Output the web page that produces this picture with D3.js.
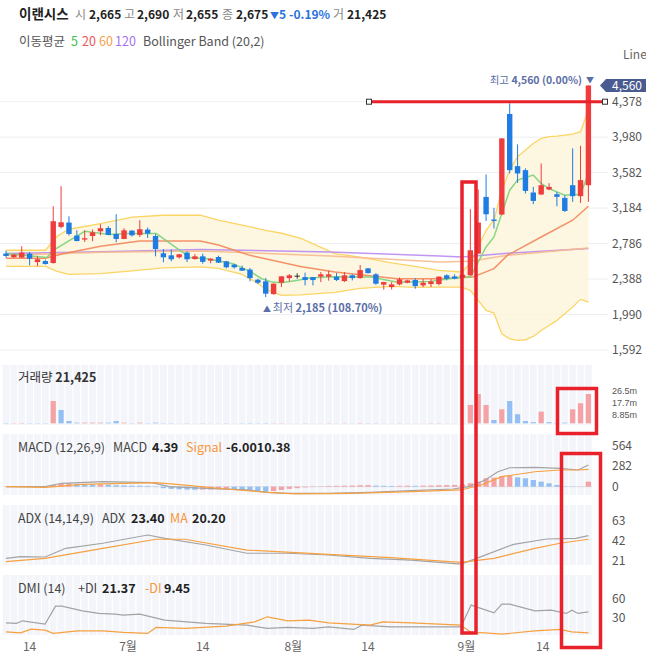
<!DOCTYPE html>
<html><head><meta charset="utf-8">
<script src="https://cdn.jsdelivr.net/npm/d3@7"></script>
<style>
html,body{margin:0;padding:0;background:#fff;overflow:hidden;}
svg{display:block;font-family:"Noto Sans CJK KR","Noto Sans",sans-serif;}
</style></head><body>
<svg id="c" width="646" height="659"></svg>
<script>
// ---------- DATA ----------
const opens  = [2674,2632,2629,2674,2579,2590,2568,2973,3022,2876,2831,2871,2924,2961,2894,2838,2932,2883,2943,2871,2677,2654,2632,2685,2613,2643,2595,2635,2587,2550,2512,2494,2381,2362,2219,2347,2399,2426,2410,2410,2415,2415,2415,2365,2430,2399,2508,2441,2325,2298,2328,2347,2377,2317,2332,2332,2430,2418,2404,2430,2674,3310,3056,3112,4240,3655,3610,3359,3337,3393,3340,3299,3441,3318,3441];
const highs  = [2707,2668,2756,2692,2643,2606,3205,3430,3093,2935,2935,2943,3003,2981,3115,2958,2935,3048,2966,2891,2725,2719,2670,2699,2669,2674,2620,2650,2592,2561,2539,2512,2393,2399,2340,2420,2444,2452,2460,2412,2467,2482,2455,2467,2441,2545,2512,2455,2358,2354,2404,2380,2396,2388,2388,2418,2441,2441,2445,3172,3393,3562,3186,3970,4360,3899,3630,3422,3685,3464,3366,3329,3854,3883,4560];
const lows   = [2629,2628,2625,2542,2534,2550,2560,2955,2876,2810,2804,2812,2879,2880,2801,2835,2865,2860,2849,2643,2576,2587,2618,2579,2606,2561,2565,2568,2508,2505,2480,2362,2332,2185,2212,2298,2362,2392,2317,2317,2354,2370,2365,2354,2373,2392,2450,2325,2269,2272,2317,2340,2280,2298,2298,2317,2373,2384,2400,2425,2670,3040,2955,3105,3573,3467,3348,3228,3330,3384,3205,3141,3254,3242,3254];
const closes = [2647,2662,2685,2617,2610,2557,3037,3025,2894,2815,2846,2913,2958,2883,2838,2935,2879,2947,2898,2725,2632,2610,2666,2610,2643,2581,2617,2572,2520,2520,2482,2399,2347,2224,2336,2418,2430,2426,2377,2377,2441,2441,2377,2430,2399,2489,2455,2336,2354,2328,2385,2373,2309,2347,2362,2415,2392,2392,2437,2711,3022,3115,3040,3966,3610,3573,3377,3265,3441,3422,3310,3152,3318,3498,4560];
// volume in millions
const volumes = [0.3,0.2,0.3,0.2,0.2,0.2,19.7,11.8,2.0,0.6,
  0.6,0.6,0.6,0.6,2.0,0.6,0.2,0.6,0.2,0.6,
  0.2,0.2,0.1,0.2,0.1,0.2,0.1,0.1,0.2,0.1,
  0.2,0.3,0.2,0.3,0.2,0.2,0.1,0.1,0.2,0.1,
  0.1,0.2,0.1,0.2,0.1,0.3,0.2,0.2,0.1,0.1,
  0.2,0.1,0.1,0.1,0.2,0.2,0.1,0.1,0.2,16.2,
  25.9,16.2,2.9,12.4,19.7,8.0,2.0,1.0,10.3,1.0,
  0.3,0.6,12.4,17.7,25.9];
// moving averages [index, value]
const ma5 = [[0,2674],[5.2,2629],[6,2711],[10,2924],[13.2,2887],[15.3,2898],[19.1,2898],[22.1,2711],[23.4,2629],[25.5,2617],[27.2,2587],[28.8,2561],[31,2475],[32.5,2392],[33.8,2354],[35,2347],[36.9,2373],[38.6,2399],[41.5,2415],[46.3,2410],[49.6,2354],[52.2,2354],[53.9,2362],[56.4,2392],[57.9,2410],[59,2410],[60,2579],[61,2748],[62,2860],[63,3123],[64,3385],[65,3498],[66,3528],[67,3554],[68,3461],[69,3404],[70,3366],[71,3329],[72,3337],[73,3337],[74,3573]];
const ma20 = [[0,2621],[5,2621],[7,2666],[12,2756],[17,2815],[24.7,2815],[27,2770],[31,2654],[37.4,2530],[41.8,2467],[49.7,2392],[55,2392],[59.3,2410],[62,2505],[63.7,2654],[68,2860],[72,3048],[74,3205]];
const ma60 = [[0,2654],[12,2688],[24.7,2703],[41.2,2647],[55.1,2579],[59,2587],[63.7,2654],[74,2737]];
const ma120 = [[0,2674],[12,2694],[24.7,2719],[41.2,2692],[55.1,2647],[58,2636],[63.7,2677],[74,2730]];
// Bollinger band (20,2)
const bbIdx   = [0,5,6.5,8,12,16,20,24.7,27,30,32,33,35,37.4,41.8,45,49,52,55,57.9,59,60,61,62,63,64,65,66,67,68,69,70,71,72,73,74];
const bbUpper = [2711,2711,2868,2947,3011,3082,3104,3104,3048,2992,2955,2935,2902,2846,2674,2635,2570,2531,2486,2467,2561,2748,2935,3048,3385,3610,3760,3835,3910,3966,3985,3992,4004,4015,4041,4285];
const bbLower = [2531,2531,2475,2441,2449,2480,2514,2525,2508,2441,2340,2272,2205,2210,2238,2283,2306,2295,2298,2298,2261,2148,2036,2006,1774,1718,1699,1707,1744,1811,1867,1924,1999,2073,2160,2129];
// MACD
const macdHist = [2,-1,3,-2,-3,-2,
  25,40,45,40,35,30,32,28,20,18,15,14,10,-5,
  -20,-30,-35,-40,-42,-40,-38,-35,-30,-35,-40,-50,-60,-70,-60,-45,-30,-20,-10,-5,
  5,10,12,14,16,20,22,15,12,10,12,14,12,14,16,20,22,24,30,
  47,69,116,124,145,150,129,116,92,69,47,23,3,-3,2,69];
const macdLine = [[0,0],[5,0],[7.1,47],[12.3,69],[18.55,55],[20.7,0],[25.4,-22],[30.6,-45],[33.2,-77],[35.8,-91],[41,-91],[46.25,-77],[51.5,-55],[56.8,-32],[58.8,0],[60.9,92],[62.5,206],[64,261],[67.2,267],[70.4,253],[72.7,230],[74,299]];
const signalLine = [[0,0],[5,-8],[9.7,33],[19.06,55],[22.75,23],[27.95,-32],[33.2,-77],[36.85,-100],[43.7,-91],[51.5,-69],[57.8,-45],[60.4,23],[63,138],[67.2,206],[70.4,230],[72.7,230],[74,239]];
// ADX
const adxLine = [[0,23.5],[1.86,25.2],[4.96,24.9],[7.6,34],[12.3,39.3],[18,48],[20.2,44.5],[25.4,37.5],[30.6,28.8],[35.8,28.8],[41,27],[46.25,23.5],[51.5,21.7],[57.8,17.5],[59.8,23.5],[64.5,38.2],[68.7,43.8],[72.4,44.5],[74,47.3]];
const adxMa = [[0,20],[4.96,23.5],[12.3,34],[19.06,43.5],[22.75,43.5],[30.6,32.2],[41,27.7],[48.9,24.2],[57.8,19.3],[62,23.5],[67.2,34],[70.4,39.3],[74,43.5]];
// DMI
const plusDI = [[0,22.1],[1.33,21.2],[2.1,25.2],[4.96,20.1],[6.3,47.9],[7.1,47.9],[9.7,40.6],[11.8,36.6],[13.85,35.5],[14.9,34],[17,35.5],[20.15,26.3],[25.4,21.2],[30.6,18.5],[33.2,13.4],[35.8,15],[39,13.4],[41,15.9],[44.2,11.9],[45.2,18.5],[48.9,15.9],[54.1,15.9],[57.8,15.9],[59.1,49.5],[62,37.6],[63,51],[64,51],[67.2,40.6],[69.25,41.7],[71.2,36.6],[71.9,41.7],[72.7,36.6],[74,39.1]];
const minusDI = [[0,8.2],[1.86,6.6],[3.2,12.4],[4.96,10.8],[6,5.7],[9.1,9.7],[12.3,9.7],[14.9,7.3],[18,5.7],[19.06,15],[22.75,13.4],[27.95,17],[31.6,23.6],[33.2,31.4],[35.8,25.2],[38.5,26.3],[41,22.1],[46.25,18.5],[47.9,23.6],[51.5,22.1],[57.8,18.5],[59.1,7.3],[60.9,6.6],[63,4.6],[67.2,9.7],[70.4,11.9],[71.9,8.2],[74,6.6]];
// ticks
const priceTicks = [1592,1990,2388,2786,3184,3582,3980,4378];
const volTicks = [8.85,17.7,26.5];
const volTickLabels = ["8.85m","17.7m","26.5m"];
const macdTicks = [0,282,564];
const adxTicks = [21,42,63];
const dmiTicks = [30,60];
const xTickIdx = [3,15.5,25,36.5,46,58.5,68.2];
const xTickLabels = ["14","7월","14","8월","14","9월","14"];

// ---------- DRAW ----------
const svg = d3.select('#c');
const N = closes.length;
const x = d3.scaleLinear().domain([0, N-1]).range([6, 588.4]);
const step = x(1) - x(0);
const fmt = d3.format(',');

const RED = '#ef3d3d', BLUE = '#1f7ce2', PINK = '#f4a2a5', LBLUE = '#93bff3';
const AXC = '#555';

// main scale
const y = d3.scaleLinear().domain([1592, 4378]).range([350, 101.7]);

// gridlines
svg.append('g').selectAll('line').data(priceTicks).join('line')
  .attr('x1', 0).attr('x2', 608).attr('y1', d => y(d)).attr('y2', d => y(d))
  .attr('stroke', '#eceef2').attr('stroke-width', 1);

// clip for main
svg.append('clipPath').attr('id', 'mainclip').append('rect')
  .attr('x', 0).attr('y', 60).attr('width', 600).attr('height', 302);
const gm = svg.append('g').attr('clip-path', 'url(#mainclip)');

// Bollinger
const bb = bbIdx.map((d, i) => ({i: d, u: bbUpper[i], l: bbLower[i]}));
gm.append('path').datum(bb)
  .attr('d', d3.area().x(d => x(d.i)).y0(d => y(d.l)).y1(d => y(d.u)))
  .attr('fill', '#fdf5dc').attr('opacity', 0.85);
const lineGen = (ys) => d3.line().x(d => x(d[0])).y(d => ys(d[1]));
gm.append('path').datum(bb.map(d => [d.i, d.u])).attr('d', lineGen(y))
  .attr('fill', 'none').attr('stroke', '#fbd565').attr('stroke-width', 1.3);
gm.append('path').datum(bb.map(d => [d.i, d.l])).attr('d', lineGen(y))
  .attr('fill', 'none').attr('stroke', '#fbd565').attr('stroke-width', 1.3);

// MAs
[[ma120, '#b98bf0'], [ma60, '#f7bb8c'], [ma20, '#f2865a'], [ma5, '#79d47a']].forEach(([d, c]) => {
  gm.append('path').datum(d).attr('d', lineGen(y))
    .attr('fill', 'none').attr('stroke', c).attr('stroke-width', 1.5).attr('opacity', 0.9);
});

// candles
const cdata = d3.range(N).map(i => ({i, o: opens[i], h: highs[i], l: lows[i], c: closes[i]}));
const ccol = d => d.c > d.o ? RED : (d.c < d.o ? BLUE : '#333');
const cg = gm.append('g').selectAll('g').data(cdata).join('g');
cg.append('line').attr('x1', d => x(d.i)).attr('x2', d => x(d.i))
  .attr('y1', d => y(d.h)).attr('y2', d => y(d.l)).attr('stroke', ccol).attr('stroke-width', 1);
cg.append('rect').attr('x', d => x(d.i) - 2.7).attr('width', 5.4)
  .attr('y', d => y(Math.max(d.o, d.c)))
  .attr('height', d => Math.max(1, Math.abs(y(d.o) - y(d.c))))
  .attr('fill', ccol);

// price axis labels
svg.append('g').selectAll('text').data(priceTicks).join('text')
  .attr('x', 612).attr('y', d => y(d)).attr('dy', '0.35em')
  .attr('font-size', 12).attr('fill', AXC).text(d => fmt(d));

// highest / lowest annotations
const iMax = d3.maxIndex(highs), iMin = d3.minIndex(lows);
svg.append('text').attr('x', 582).attr('y', y(highs[iMax]) - 1).attr('text-anchor', 'end')
  .attr('font-size', 10.5).attr('fill', '#5b6ea6')
  .call(t => { t.append('tspan').text('최고 '); t.append('tspan').attr('font-weight', 'bold').text(fmt(highs[iMax]) + ' (0.00%)'); });
svg.append('text').attr('x', 590).attr('y', y(highs[iMax]) - 2).attr('text-anchor', 'middle')
  .attr('font-size', 8).attr('fill', '#5b6ea6').text('▼');
svg.append('text').attr('x', 263).attr('y', y(lows[iMin]) + 15)
  .attr('font-size', 11).attr('fill', '#5b6ea6')
  .call(t => { t.append('tspan').attr('font-size', 8).text('▲ '); t.append('tspan').text('최저 ');
    t.append('tspan').attr('font-weight', 'bold').text(fmt(lows[iMin]) + ' (108.70%)'); });

// price badge
const by = y(closes[N-1]);
svg.append('path').attr('d', `M600,${by} L606,${by-6.5} L646,${by-6.5} L646,${by+6.5} L606,${by+6.5} Z`).attr('fill', '#4a5b90');
svg.append('text').attr('x', 612).attr('y', by).attr('dy', '0.36em').attr('font-size', 12)
  .attr('fill', '#fff').text(fmt(closes[N-1]));
svg.append('text').attr('x', 623).attr('y', 59).attr('font-size', 12).attr('fill', '#666').text('Line');

// ---------- sub panels ----------
function stripes(top, bottom) {
  svg.append('g').selectAll('rect').data(d3.range(N)).join('rect')
    .attr('x', i => x(i) - step / 2 + 0.6).attr('width', step - 1.2)
    .attr('y', top).attr('height', bottom - top).attr('fill', '#f3f5fa');
}

// volume panel
stripes(365, 425);
const yv = d3.scaleLinear().domain([0, 26.5]).range([423.3, 393.3]);
const vcol = i => (i === 0 ? closes[0] >= opens[0] : closes[i] >= closes[i-1]) ? PINK : LBLUE;
svg.append('g').selectAll('rect').data(volumes).join('rect')
  .attr('x', (d, i) => x(i) - 2.6).attr('width', 5.2)
  .attr('y', d => yv(d)).attr('height', d => yv(0) - yv(d))
  .attr('fill', (d, i) => vcol(i));
svg.append('g').selectAll('text').data(volTicks).join('text')
  .attr('x', 612).attr('y', (d, i) => yv(d) + (1 - i) * 2).attr('dy', '0.35em')
  .attr('font-size', 9).attr('font-family', '"Liberation Sans", Arial, sans-serif').attr('fill', AXC)
  .text((d, i) => volTickLabels[i]);
svg.append('text').attr('x', 18).attr('y', 382).attr('font-size', 12.5).attr('fill', '#333')
  .call(t => { t.append('tspan').text('거래량 '); t.append('tspan').attr('font-weight', 'bold').text('21,425'); });

// MACD panel
stripes(434, 495);
const ym = d3.scaleLinear().domain([0, 564]).range([486.7, 445.7]);
svg.append('line').attr('x1', 4).attr('x2', 592).attr('y1', ym(0)).attr('y2', ym(0)).attr('stroke', '#dcdfe5');
svg.append('g').selectAll('rect').data(macdHist).join('rect')
  .attr('x', (d, i) => x(i) - 2.6).attr('width', 5.2)
  .attr('y', d => ym(Math.max(0, d))).attr('height', d => Math.abs(ym(d) - ym(0)))
  .attr('fill', (d, i) => (i === 0 || d >= macdHist[i-1]) ? PINK : LBLUE);
svg.append('path').datum(macdLine).attr('d', lineGen(ym)).attr('fill', 'none').attr('stroke', '#a3a3a3').attr('stroke-width', 1.2);
svg.append('path').datum(signalLine).attr('d', lineGen(ym)).attr('fill', 'none').attr('stroke', '#f7a040').attr('stroke-width', 1.2);
svg.append('g').selectAll('text').data(macdTicks).join('text')
  .attr('x', 612).attr('y', d => ym(d)).attr('dy', '0.35em').attr('font-size', 12).attr('fill', AXC).text(d => d);
const lab = (yy, parts) => {
  const t = svg.append('text').attr('y', yy).attr('font-size', 12.5);
  parts.forEach(p => t.append('tspan').attr('x', p[0]).attr('fill', p[2] || '#444')
    .attr('font-weight', p[3] ? 'bold' : null).text(p[1]));
};
lab(452, [[18, 'MACD (12,26,9)'], [113, 'MACD'], [152, '4.39', '#222', 1], [186, 'Signal', '#f7963a'], [226, '-6.0010.38', '#222', 1]]);

// ADX panel
stripes(505, 565);
const ya = d3.scaleLinear().domain([21, 63]).range([560.7, 520.7]);
svg.append('path').datum(adxLine).attr('d', lineGen(ya)).attr('fill', 'none').attr('stroke', '#a3a3a3').attr('stroke-width', 1.2);
svg.append('path').datum(adxMa).attr('d', lineGen(ya)).attr('fill', 'none').attr('stroke', '#f7a040').attr('stroke-width', 1.2);
svg.append('g').selectAll('text').data(adxTicks).join('text')
  .attr('x', 612).attr('y', d => ya(d)).attr('dy', '0.35em').attr('font-size', 12).attr('fill', AXC).text(d => d);
lab(523, [[18, 'ADX (14,14,9)'], [102, 'ADX'], [131, '23.40', '#222', 1], [170, 'MA', '#f7963a'], [192, '20.20', '#222', 1]]);

// DMI panel
stripes(575, 635);
const yd = d3.scaleLinear().domain([30, 60]).range([617.7, 598.3]);
svg.append('path').datum(plusDI).attr('d', lineGen(yd)).attr('fill', 'none').attr('stroke', '#a3a3a3').attr('stroke-width', 1.2);
svg.append('path').datum(minusDI).attr('d', lineGen(yd)).attr('fill', 'none').attr('stroke', '#f7a040').attr('stroke-width', 1.2);
svg.append('g').selectAll('text').data(dmiTicks).join('text')
  .attr('x', 612).attr('y', d => yd(d)).attr('dy', '0.35em').attr('font-size', 12).attr('fill', AXC).text(d => d);
lab(593, [[18, 'DMI (14)'], [78, '+DI'], [102, '21.37', '#222', 1], [145, '-DI', '#f7963a'], [164, '9.45', '#222', 1]]);

// x-axis labels
svg.append('g').selectAll('text').data(xTickIdx).join('text')
  .attr('x', d => x(d)).attr('y', 651).attr('text-anchor', 'middle')
  .attr('font-size', 12).attr('fill', '#666').text((d, i) => xTickLabels[i]);

// ---------- header ----------
const h1 = svg.append('text').attr('y', 19).attr('font-size', 12);
[['이랜시스', 19, '#222', 1, 13.5], ['시', 75, '#888', 0], ['2,665', 89, '#222', 1], ['고', 124, '#888', 0], ['2,690', 137, '#222', 1],
 ['저', 173, '#888', 0], ['2,655', 186, '#222', 1], ['종', 222, '#888', 0], ['2,675', 236, '#222', 1],
 ['▼', 270, '#2a72e0', 0, 9], ['5', 279, '#2a72e0', 1], ['-0.19%', 289, '#2a72e0', 1], ['거', 333, '#888', 0], ['21,425', 347, '#222', 1]]
 .forEach(p => h1.append('tspan').attr('x', p[1]).attr('fill', p[2]).attr('font-weight', p[3] ? 'bold' : null)
   .attr('font-size', p[4] || null).text(p[0]));
const h2 = svg.append('text').attr('y', 46).attr('font-size', 12.5);
[['이동평균', 19, '#555'], ['5', 71, '#3cc24a'], ['20', 82, '#f2545b'], ['60', 99, '#f5a04a'], ['120', 115, '#a772ee'], ['Bollinger Band (20,2)', 143, '#555']]
 .forEach(p => h2.append('tspan').attr('x', p[1]).attr('fill', p[2]).text(p[0]));

// ---------- red annotations ----------
const ann = svg.append('g').attr('fill', 'none').attr('stroke', '#e8212a');
ann.append('line').attr('x1', 369).attr('x2', 605).attr('y1', y(4378)).attr('y2', y(4378)).attr('stroke-width', 3);
ann.append('rect').attr('x', 462).attr('y', 182).attr('width', 14).attr('height', 451).attr('stroke-width', 3.5);
ann.append('rect').attr('x', 557.5).attr('y', 388.5).attr('width', 39).attr('height', 45).attr('stroke-width', 3.5);
ann.append('rect').attr('x', 561.5).attr('y', 453.5).attr('width', 39).attr('height', 194).attr('stroke-width', 3.5);
[369, 605].forEach(hx => svg.append('rect').attr('x', hx - 2.5).attr('y', y(4378) - 2.5).attr('width', 5).attr('height', 5)
  .attr('fill', '#fff').attr('stroke', '#333').attr('stroke-width', 1));
</script>
</body></html>
